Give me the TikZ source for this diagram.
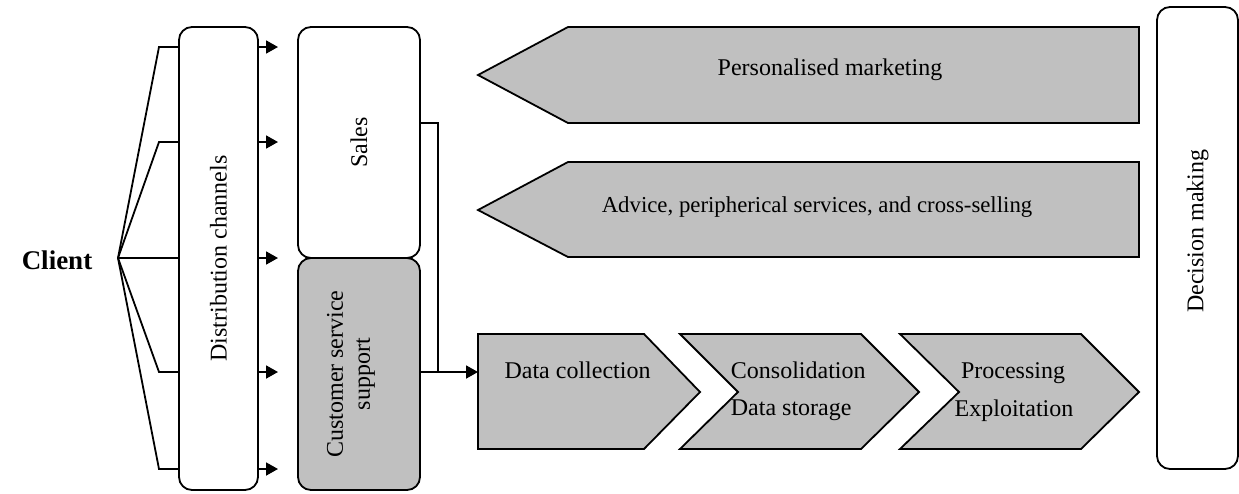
\documentclass[tikz,border=0pt]{standalone}
\usepackage{fontspec}
\setmainfont{Liberation Serif}
\usetikzlibrary{arrows.meta}
\definecolor{boxgrey}{RGB}{192,192,192}
\begin{document}
\begin{tikzpicture}[x=1pt,y=-1pt, line width=1.8pt,
  box/.style={draw, rounded corners=13pt, inner sep=0pt, font=\fontsize{24}{27}\selectfont},
  txt/.style={font=\fontsize{24}{28}\selectfont, inner sep=0pt},
  arr/.style={-{Triangle[length=12pt,width=13pt]}},
  shp/.style={draw, fill=boxgrey, line join=miter}]
\useasboundingbox (0,0) rectangle (1239,493);

% left boxes
\node[box, minimum width=79pt, minimum height=463pt] (dist) at (218.5,258.5) {\rotatebox{90}{Distribution channels}};
\node[box, minimum width=122pt, minimum height=231pt] (sales) at (359,142.5) {\rotatebox{90}{Sales}};
\node[box, fill=boxgrey, minimum width=122pt, minimum height=232pt] (cs) at (359,374)
  {\rotatebox{90}{\raisebox{0pt}[\height][\dimexpr\depth+16pt\relax]{\begin{tabular}{@{}c@{}}Customer service\\support\end{tabular}}}};
\node[box, minimum width=81pt, minimum height=462pt] (dec) at (1197.5,238) {\rotatebox{90}{\hspace*{14pt}Decision making}};

% client and fan
\node[txt, font=\fontsize{27}{30}\selectfont\bfseries] (client) at (57,260) {Client};
\coordinate (apex) at (118,258);
\foreach \i/\y in {1/47,2/142,3/258,4/372,5/469}{
  \coordinate (f\i) at (159,\y);
  \coordinate (a\i) at (278,\y);
}
\foreach \i in {1,2,4,5}{
  \draw (apex) -- (f\i) -- (dist.west |- f\i);
}
\draw (apex) -- (dist.west |- f3);
\foreach \i in {1,...,5}{
  \draw[arr] (dist.east |- a\i) -- (a\i);
}

% upper arrows
\path[shp] (478,75) -- (568,27) -- (1139,27) -- (1139,123) -- (568,123) -- cycle;
\path[shp] (478,210) -- (568,162) -- (1139,162) -- (1139,257) -- (568,257) -- cycle;
\node[txt, anchor=base] (pm) at (830,75) {Personalised marketing};
\node[txt, font=\fontsize{22.8}{27}\selectfont, anchor=base] (adv) at (817,212) {Advice, peripherical services, and cross-selling};

% chevrons
\path[shp] (478,334) -- (644,334) -- (700,392) -- (644,449) -- (478,449) -- cycle;
\path[shp] (680,334) -- (861,334) -- (919,392) -- (861,449) -- (680,449) -- (738,392) -- cycle;
\path[shp] (900,334) -- (1081,334) -- (1139,392) -- (1081,449) -- (900,449) -- (959,392) -- cycle;
\coordinate (dcW) at (478,372);
\node[txt, anchor=base] (dc) at (577.5,378) {Data collection};
\node[txt, anchor=base west] (cons) at (730,378) {Consolidation};
\node[txt, anchor=base west] (stor) at (730,415) {Data storage};
\node[txt, anchor=base] (proc) at (1013,378) {Processing};
\node[txt, anchor=base] (expl) at (1014,416) {Exploitation};

% connectors
\coordinate (jn) at (438,372);
\draw ([yshift=19.5pt]sales.east) -| (jn);
\draw[arr] (cs.east |- dcW) -- (dcW);
\end{tikzpicture}
\end{document}
